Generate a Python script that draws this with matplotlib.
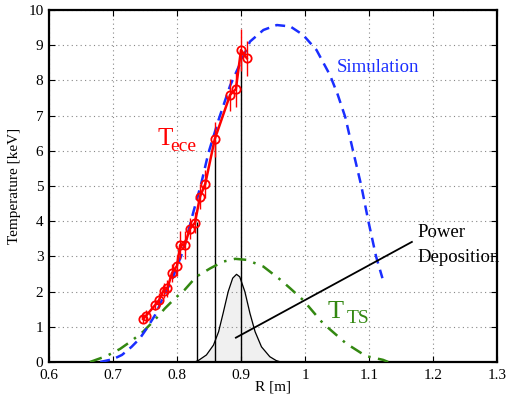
import matplotlib.pyplot as plt
import numpy as np

plt.rcParams['font.family'] = ['Liberation Serif', 'DejaVu Serif']

# ECE measurement (red)
R_ece = [0.747, 0.752, 0.766, 0.772, 0.779, 0.785, 0.792, 0.800, 0.805, 0.812,
         0.820, 0.828, 0.836, 0.844, 0.859, 0.883, 0.892, 0.900, 0.909]
T_ece = [1.22, 1.32, 1.62, 1.76, 2.03, 2.09, 2.52, 2.73, 3.32, 3.32,
         3.78, 3.95, 4.70, 5.05, 6.33, 7.59, 7.75, 8.86, 8.63]
err_ece = [0.12, 0.15, 0.15, 0.2, 0.2, 0.25, 0.25, 0.3, 0.4, 0.4,
           0.3, 0.3, 0.35, 0.4, 0.5, 0.45, 0.5, 0.6, 0.5]

# simulation (blue dashed)
R_sim = [0.68, 0.70, 0.714, 0.729, 0.742, 0.753, 0.766, 0.779, 0.792, 0.81,
         0.825, 0.838, 0.849, 0.865, 0.883, 0.898, 0.914, 0.935, 0.956, 0.977,
         0.997, 1.018, 1.039, 1.051, 1.063, 1.075, 1.088, 1.099, 1.111, 1.121]
T_sim = [0.0, 0.08, 0.2, 0.43, 0.67, 0.96, 1.34, 1.86, 2.33, 3.18,
         4.22, 5.08, 5.93, 6.88, 7.85, 8.45, 9.1, 9.43, 9.57, 9.53,
         9.29, 8.86, 8.15, 7.6, 6.95, 6.0, 5.0, 4.0, 3.0, 2.38]

# Thomson scattering (green dash-dot)
R_ts = [0.664, 0.69, 0.711, 0.729, 0.747, 0.766, 0.781, 0.797, 0.812, 0.83,
        0.852, 0.872, 0.891, 0.909, 0.935, 0.962, 0.977, 0.997, 1.028, 1.064,
        1.095, 1.122, 1.13]
T_ts = [0.0, 0.17, 0.37, 0.6, 0.86, 1.21, 1.52, 1.81, 2.05, 2.42,
        2.66, 2.85, 2.93, 2.9, 2.71, 2.33, 2.09, 1.76, 1.1, 0.53,
        0.17, 0.06, 0.0]

# power deposition profile (gray filled)
R_pow = [0.828, 0.834, 0.846, 0.857, 0.865, 0.872, 0.880, 0.887, 0.893, 0.898,
         0.906, 0.914, 0.922, 0.932, 0.945, 0.955, 0.962]
P_pow = [0.0, 0.05, 0.2, 0.48, 0.86, 1.38, 2.0, 2.38, 2.49, 2.42,
         2.0, 1.38, 0.86, 0.43, 0.15, 0.04, 0.0]

# vertical marker lines
R_vl = [0.832, 0.860, 0.900]
T_vl = [3.98, 6.3, 8.86]

fig = plt.figure(figsize=(5.12, 4.01), dpi=100)
ax = fig.add_axes([0.0957, 0.0973, 0.875, 0.878])

ax.fill_between(R_pow, 0, P_pow, color='#f0f0f0', zorder=1)
ax.plot(R_pow, P_pow, color='black', lw=0.9, zorder=2)
ax.vlines(R_vl, 0, T_vl, color='black', lw=1.0, zorder=2)

ax.plot(R_ts, T_ts, color='#338811', lw=1.8, ls=(0, (5, 3, 1, 3)), zorder=3)
ax.plot(R_sim, T_sim, color='#1a2eff', lw=1.8, ls=(0, (4, 2.6)), zorder=3)

ax.errorbar(R_ece, T_ece, yerr=err_ece, color='red', ecolor='red', elinewidth=1.0,
            lw=1.8, marker='o', ms=6, mfc='none', mec='red', mew=1.3, capsize=0,
            zorder=4)

# annotation line for power deposition
ax.plot([0.892, 1.167], [0.69, 3.41], color='black', lw=1.3, zorder=5)

ax.text(1.176, 3.54, 'Power', fontsize=13.5, va='baseline', ha='left')
ax.text(1.176, 2.85, 'Deposition', fontsize=13.5, va='baseline', ha='left')
ax.text(1.05, 8.23, 'Simulation', fontsize=13.5, color='#1a2eff', va='baseline')
ax.text(0.769, 6.16, 'T', fontsize=18, color='red', va='baseline')
ax.text(0.789, 6.0, 'ece', fontsize=14, color='red', va='baseline')
ax.text(1.035, 1.25, 'T', fontsize=19, color='#338811', va='baseline')
ax.text(1.0645, 1.1, 'TS', fontsize=14, color='#338811', va='baseline')

ax.set_xlim(0.6, 1.3)
ax.set_ylim(0, 10)
ax.set_xticks(np.arange(0.6, 1.31, 0.1))
ax.set_xticklabels(['0.6', '0.7', '0.8', '0.9', '1', '1.1', '1.2', '1.3'])
ax.set_yticks(range(0, 11))
ax.tick_params(direction='in', top=True, right=True, length=4, width=0.8,
               labelsize=11)
ax.tick_params(axis='x', pad=5)
ax.tick_params(axis='y', pad=4)
ax.grid(True, color='#888888', ls=(0, (1, 3)), lw=0.8)
for s in ax.spines.values():
    s.set_linewidth(1.6)

ax.set_xlabel('R [m]', fontsize=11, labelpad=-1)
ax.set_ylabel('Temperature [keV]', fontsize=11, labelpad=5)

fig.savefig('out.png', dpi=100)
